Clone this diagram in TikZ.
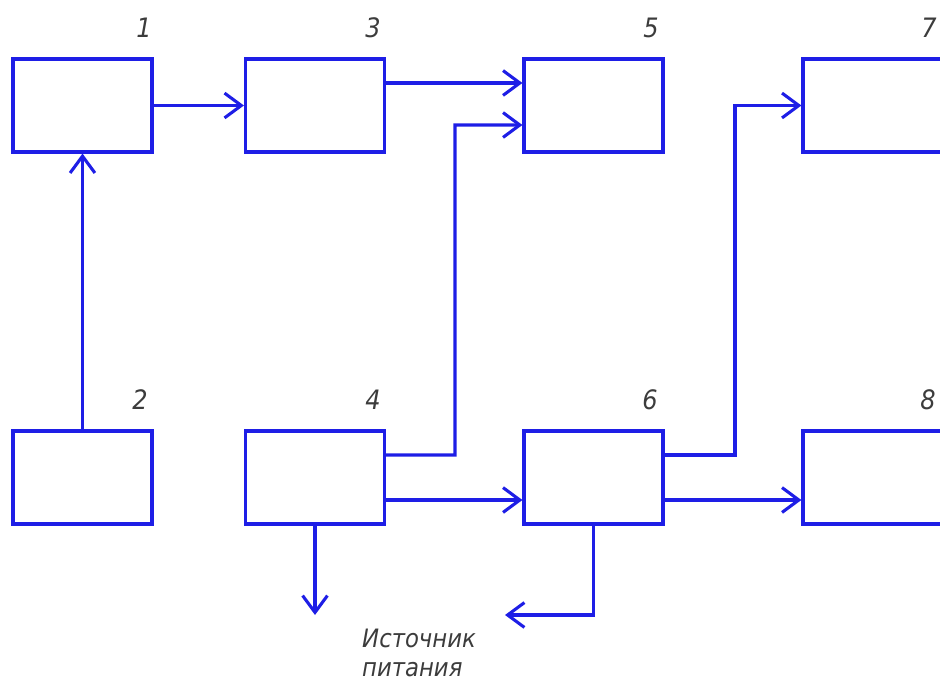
\documentclass[tikz,border=0pt]{standalone}
\usepackage{fontspec}
\setmainfont{DejaVu Sans Condensed}
\usetikzlibrary{arrows.meta,positioning}

\definecolor{lineblue}{RGB}{30,30,230}
\definecolor{textgray}{RGB}{60,60,60}

\begin{document}
\begin{tikzpicture}[x=0.025cm,y=-0.025cm,line width=2.2pt,
  arr/.style={lineblue,-{Straight Barb[length=0.42cm,width=0.62cm,line width=2.2pt]}},
  block/.style={draw=lineblue,rectangle,minimum width=3.475cm,minimum height=2.325cm,inner sep=0pt},
  num/.style={textgray,font=\itshape\fontsize{19}{19}\selectfont}]
\useasboundingbox (0,0) rectangle (940,682);
\clip (0,0) rectangle (940,682);

\node[block](b1) at (82.5,105.5) {};
\node[block](b3) at (315,105.5) {};
\node[block](b5) at (593.5,105.5) {};
\node[block](b7) at (872.5,105.5) {};
\node[block](b2) at (82.5,477.5) {};
\node[block](b4) at (315,477.5) {};
\node[block](b6) at (593.5,477.5) {};
\node[block](b8) at (872.5,477.5) {};

\node[num](n1) at (144,28) {1};
\node[num](n3) at (373,28) {3};
\node[num](n5) at (651,28) {5};
\node[num](n7) at (929,28) {7};
\node[num](n2) at (140,400) {2};
\node[num](n4) at (373,400) {4};
\node[num](n6) at (650,400) {6};
\node[num](n8) at (928,400) {8};

\node[textgray,font=\itshape\fontsize{18}{20.6}\selectfont,align=left,anchor=north west](src) at (356,623) {Источник\\питания};
\coordinate (c4) at (315,615);
\coordinate (c6) at (505,615);

\draw[arr](b2.north)--(b1.south);
\draw[arr](b1.east)--(b3.west);
\draw[arr]([yshift=0.5625cm]b3.east)--([yshift=0.5625cm]b5.west);
\draw[arr]([yshift=0.5625cm]b4.east)-|(455,125)--([yshift=-0.4875cm]b5.west);
\draw[arr]([yshift=-0.5625cm]b4.east)--([yshift=-0.5625cm]b6.west);
\draw[arr]([yshift=0.5625cm]b6.east)-|(735,105.5)--(b7.west);
\draw[arr]([yshift=-0.5625cm]b6.east)--([yshift=-0.5625cm]b8.west);
\draw[arr](b4.south)--(c4);
\draw[arr](b6.south)|-(c6);
\end{tikzpicture}
\end{document}
